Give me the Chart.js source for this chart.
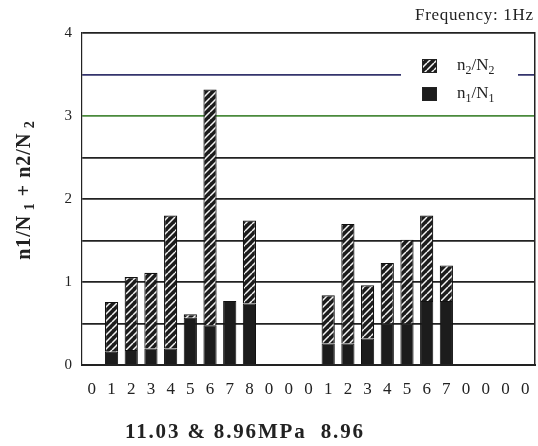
<!DOCTYPE html>
<html>
<head>
<meta charset="utf-8">
<script src="https://cdn.jsdelivr.net/npm/chart.js@4"></script>
<style>
  html, body { margin: 0; padding: 0; background: #fff; }
  #wrap { width: 538px; height: 446px; }
</style>
</head>
<body>
<div id="wrap"><canvas id="ratioChart" width="538" height="446"></canvas></div>
<script>
// category labels along the bottom (block numbers, zero = empty slot)
const labels = ['0','1','2','3','4','5','6','7','8','0','0','0','1','2','3','4','5','6','7','0','0','0','0'];
// n1/N1 (solid, bottom part of each bar)
const n1Values = [0, 0.16, 0.18, 0.20, 0.20, 0.57, 0.48, 0.77, 0.74, 0, 0, 0, 0.26, 0.26, 0.32, 0.50, 0.50, 0.77, 0.77, 0, 0, 0, 0];
// n2/N2 (hatched, stacked on top)
const n2Values = [0, 0.60, 0.88, 0.91, 1.60, 0.04, 2.84, 0, 1.00, 0, 0, 0, 0.58, 1.44, 0.64, 0.73, 1.01, 1.03, 0.43, 0, 0, 0, 0];
const seriesNames = ['n1/N1', 'n2/N2'];
const yMin = 0, yMax = 4, yStep = 0.5;

const ink = '#222';
const serif = "'Liberation Serif', 'DejaVu Serif', serif";

function hatchPattern() {
  const c = document.createElement('canvas');
  c.width = 7; c.height = 7;
  const g = c.getContext('2d');
  g.fillStyle = '#1c1c1c';
  g.fillRect(0, 0, 7, 7);
  g.strokeStyle = '#f4f4f4';
  g.lineWidth = 1.5;
  g.beginPath();
  g.moveTo(-7, 7); g.lineTo(0, 0);
  g.moveTo(0, 7); g.lineTo(7, 0);
  g.moveTo(7, 7); g.lineTo(14, 0);
  g.stroke();
  return g.createPattern(c, 'repeat');
}
const hatch = hatchPattern();

// draw text pieces, some as subscripts; returns width
function drawParts(ctx, parts, x, y, size, weight, measureOnly) {
  let cx = x;
  parts.forEach(p => {
    const s = p.sub ? size * 0.7 : size;
    ctx.font = weight + ' ' + s + 'px ' + serif;
    if (!measureOnly) ctx.fillText(p.t, cx, p.sub ? y + size * 0.28 : y);
    cx += ctx.measureText(p.t).width;
  });
  return cx - x;
}
function labelParts(name) {
  // "n2/N2" -> n, sub 2, /, N, sub 2
  const out = [];
  name.replace(/([a-zA-Z\/]+)(\d*)/g, (m, a, d) => {
    out.push({t: a});
    if (d) out.push({t: d, sub: true});
  });
  return out;
}
function fitText(ctx, txt, x, y, width) {
  ctx.letterSpacing = '0px';
  const w = ctx.measureText(txt).width;
  ctx.letterSpacing = ((width - w) / (txt.length - 1)).toFixed(2) + 'px';
  ctx.fillText(txt, x, y);
  ctx.letterSpacing = '0px';
}

const textPlugin = {
  id: 'texts',
  afterDraw(chart) {
    const ctx = chart.ctx;
    const area = chart.chartArea;
    ctx.save();
    ctx.fillStyle = ink;
    ctx.textBaseline = 'middle';
    ctx.textAlign = 'left';

    // frequency note, top right
    ctx.font = '17px ' + serif;
    fitText(ctx, 'Frequency: 1Hz', area.right - 120, 16, 118);

    // x title
    ctx.font = '600 21px ' + serif;
    fitText(ctx, '11.03 & 8.96MPa  8.96', 125, 433, 238);

    // y title, rotated
    ctx.letterSpacing = '1px';
    const yParts = [{t: 'n1/N'}, {t: ' 1', sub: true}, {t: ' + n2/N'}, {t: ' 2', sub: true}];
    const yw = drawParts(ctx, yParts, 0, 0, 20, 'bold', true);
    ctx.save();
    ctx.translate(25, 190);
    ctx.rotate(-Math.PI / 2);
    drawParts(ctx, yParts, -yw / 2, 0, 20, 'bold');
    ctx.restore();
    ctx.letterSpacing = '0px';

    // legend box inside the plot, top right
    const lx = area.right - 113;
    ctx.fillStyle = '#fff';
    ctx.fillRect(area.right - 134, area.top + 18, 117, 52);
    const items = [chart.data.datasets[1], chart.data.datasets[0]];
    items.forEach((ds, i) => {
      const cy = area.top + 33 + i * 28;
      ctx.fillStyle = ds.backgroundColor;
      ctx.fillRect(lx, cy - 7, 15, 14);
      ctx.strokeStyle = ink;
      ctx.lineWidth = 1;
      ctx.strokeRect(lx + 0.5, cy - 6.5, 14, 13);
      ctx.fillStyle = ink;
      drawParts(ctx, labelParts(ds.label), lx + 35, cy, 17, 'normal');
    });
    ctx.restore();
  }
};

const gridColor = ctx => {
  const v = ctx.tick ? ctx.tick.value : null;
  if (v === 3) return '#4a8a3c';
  if (v === 3.5) return '#34346c';
  return ink;
};

new Chart(document.getElementById('ratioChart'), {
  type: 'bar',
  data: {
    labels: labels,
    datasets: [
      {
        label: seriesNames[0],
        data: n1Values,
        backgroundColor: '#1c1c1c',
        borderColor: '#111',
        borderWidth: c => (c.raw ? 1 : 0),
        categoryPercentage: 1,
        barPercentage: 0.67
      },
      {
        label: seriesNames[1],
        data: n2Values,
        backgroundColor: hatch,
        borderColor: '#111',
        borderWidth: c => (c.raw ? 1.2 : 0),
        categoryPercentage: 1,
        barPercentage: 0.67
      }
    ]
  },
  options: {
    responsive: false,
    animation: false,
    devicePixelRatio: 1,
    layout: { padding: { top: 33, left: 0, right: 0, bottom: 0 } },
    plugins: { legend: { display: false }, tooltip: { enabled: false } },
    scales: {
      x: {
        stacked: true,
        grid: { display: false },
        border: { display: true, color: ink, width: 2 },
        ticks: {
          color: ink,
          font: { family: serif, size: 17 },
          padding: 6,
          maxRotation: 0,
          autoSkip: false
        },
        afterFit: s => { s.height = 81; }
      },
      y: {
        stacked: true,
        min: yMin,
        max: yMax,
        ticks: {
          stepSize: yStep,
          color: ink,
          font: { family: serif, size: 15 },
          padding: 10,
          callback: v => (Number.isInteger(v) ? v : '')
        },
        grid: { color: gridColor, lineWidth: 1.8, drawTicks: false },
        border: { display: true, color: ink, width: 1.2 },
        afterFit: s => { s.width = 82; }
      },
      y2: {
        position: 'right',
        min: yMin,
        max: yMax,
        grid: { display: false },
        ticks: { display: false },
        border: { display: true, color: ink, width: 1.5 },
        afterFit: s => { s.width = 3; }
      }
    }
  },
  plugins: [textPlugin]
});
</script>
</body>
</html>
